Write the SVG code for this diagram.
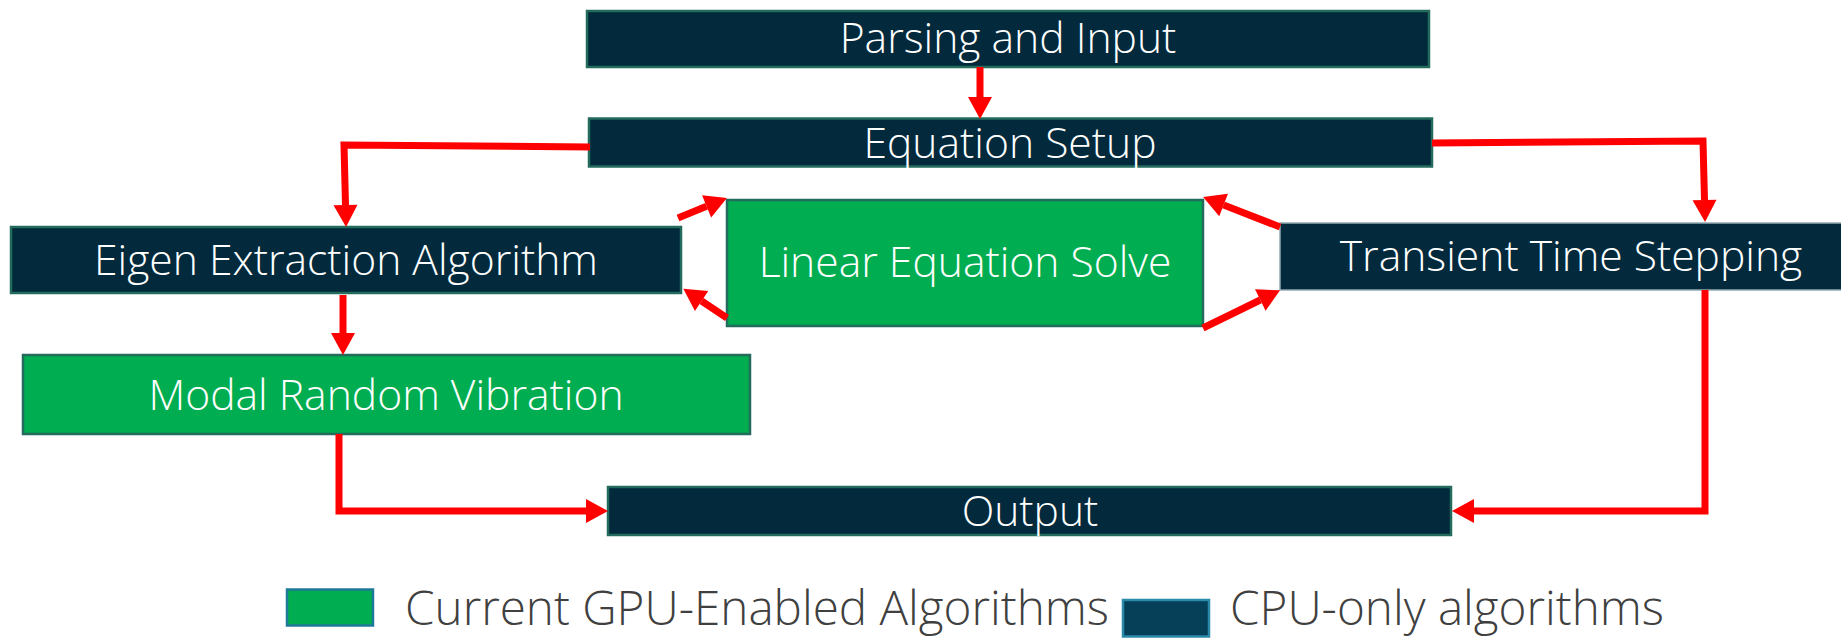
<svg xmlns="http://www.w3.org/2000/svg" width="1841" height="638" viewBox="0 0 1841 638">
  <style>
    .cpu { fill: #022a3c; stroke: #236b5c; stroke-width: 2.5; }
    .gpu { fill: #00ad50; stroke: #236b5c; stroke-width: 2.5; }
    .label { font-family: "Open Sans", "Liberation Sans", sans-serif; font-weight: 300; font-size: 42.6px; fill: #ffffff; text-anchor: middle; }
    .legend { font-family: "Open Sans", "Liberation Sans", sans-serif; font-weight: 300; font-size: 47.6px; fill: #404040; }
    .wire { fill: none; stroke: #ff0000; stroke-width: 7; stroke-linejoin: miter; }
  </style>
  <defs>
    <marker id="head" markerUnits="userSpaceOnUse" markerWidth="24" markerHeight="26" refX="0" refY="12" orient="auto" overflow="visible">
      <path d="M0,0 L22,12 L0,24 Z" fill="#ff0000"/>
    </marker>
  </defs>
  <rect width="1841" height="638" fill="#ffffff"/>

  <g id="node-parsing">
    <rect class="cpu" x="587" y="11" width="842" height="56"/>
    <text class="label" x="1008" y="53">Parsing and Input</text>
  </g>
  <g id="node-equation-setup">
    <rect class="cpu" x="589" y="118.5" width="843" height="48"/>
    <text class="label" x="1010" y="158">Equation Setup</text>
  </g>
  <g id="node-eigen">
    <rect class="cpu" x="11" y="227" width="670" height="66"/>
    <text class="label" x="346" y="275">Eigen Extraction Algorithm</text>
  </g>
  <g id="node-linear-solve">
    <rect class="gpu" x="727" y="200" width="476" height="126"/>
    <text class="label" x="965" y="277">Linear Equation Solve</text>
  </g>
  <g id="node-transient">
    <rect x="1280" y="223" width="590" height="67" fill="#022a3c" stroke="#93a9b1" stroke-width="1.5"/>
    <text class="label" x="1571" y="271">Transient Time Stepping</text>
  </g>
  <g id="node-modal">
    <rect class="gpu" x="23" y="355" width="727" height="79"/>
    <text class="label" x="386" y="410">Modal Random Vibration</text>
  </g>
  <g id="node-output">
    <rect class="cpu" x="608" y="487" width="843" height="48"/>
    <text class="label" x="1030" y="526">Output</text>
  </g>

  <g id="connectors">
    <!-- Parsing -> Equation Setup -->
    <polyline class="wire" points="980,67 980,97" marker-end="url(#head)"/>
    <!-- Equation Setup -> Eigen Extraction -->
    <polyline class="wire" points="590,147 344,145 345.5,205" marker-end="url(#head)"/>
    <!-- Eigen Extraction -> Modal Random Vibration -->
    <polyline class="wire" points="343,295 343,333" marker-end="url(#head)"/>
    <!-- Eigen <-> Linear Equation Solve -->
    <polyline class="wire" points="678,218 706.6,206.3" marker-end="url(#head)"/>
    <polyline class="wire" points="727,318 701.6,301" marker-end="url(#head)"/>
    <!-- Transient <-> Linear Equation Solve -->
    <polyline class="wire" points="1280,227 1223.6,205" marker-end="url(#head)"/>
    <polyline class="wire" points="1203,328 1260.3,300" marker-end="url(#head)"/>
    <!-- Equation Setup -> Transient -->
    <polyline class="wire" points="1432,143 1703,141 1704.5,200" marker-end="url(#head)"/>
    <!-- Transient -> Output -->
    <polyline class="wire" points="1705,290 1705,511 1474,511" marker-end="url(#head)"/>
    <!-- Modal Random Vibration -> Output -->
    <polyline class="wire" points="339,434 339,511 586,511" marker-end="url(#head)"/>
  </g>

  <g id="legend">
    <rect x="287" y="589.5" width="86" height="36" fill="#00ad50" stroke="#1f7a9a" stroke-width="2.5"/>
    <text class="legend" x="405" y="625">Current GPU-Enabled Algorithms</text>
    <rect x="1123" y="600" width="86" height="36.5" fill="#053f58" stroke="#2a8aa8" stroke-width="2.5"/>
    <text class="legend" x="1230" y="625">CPU-only algorithms</text>
  </g>
</svg>
